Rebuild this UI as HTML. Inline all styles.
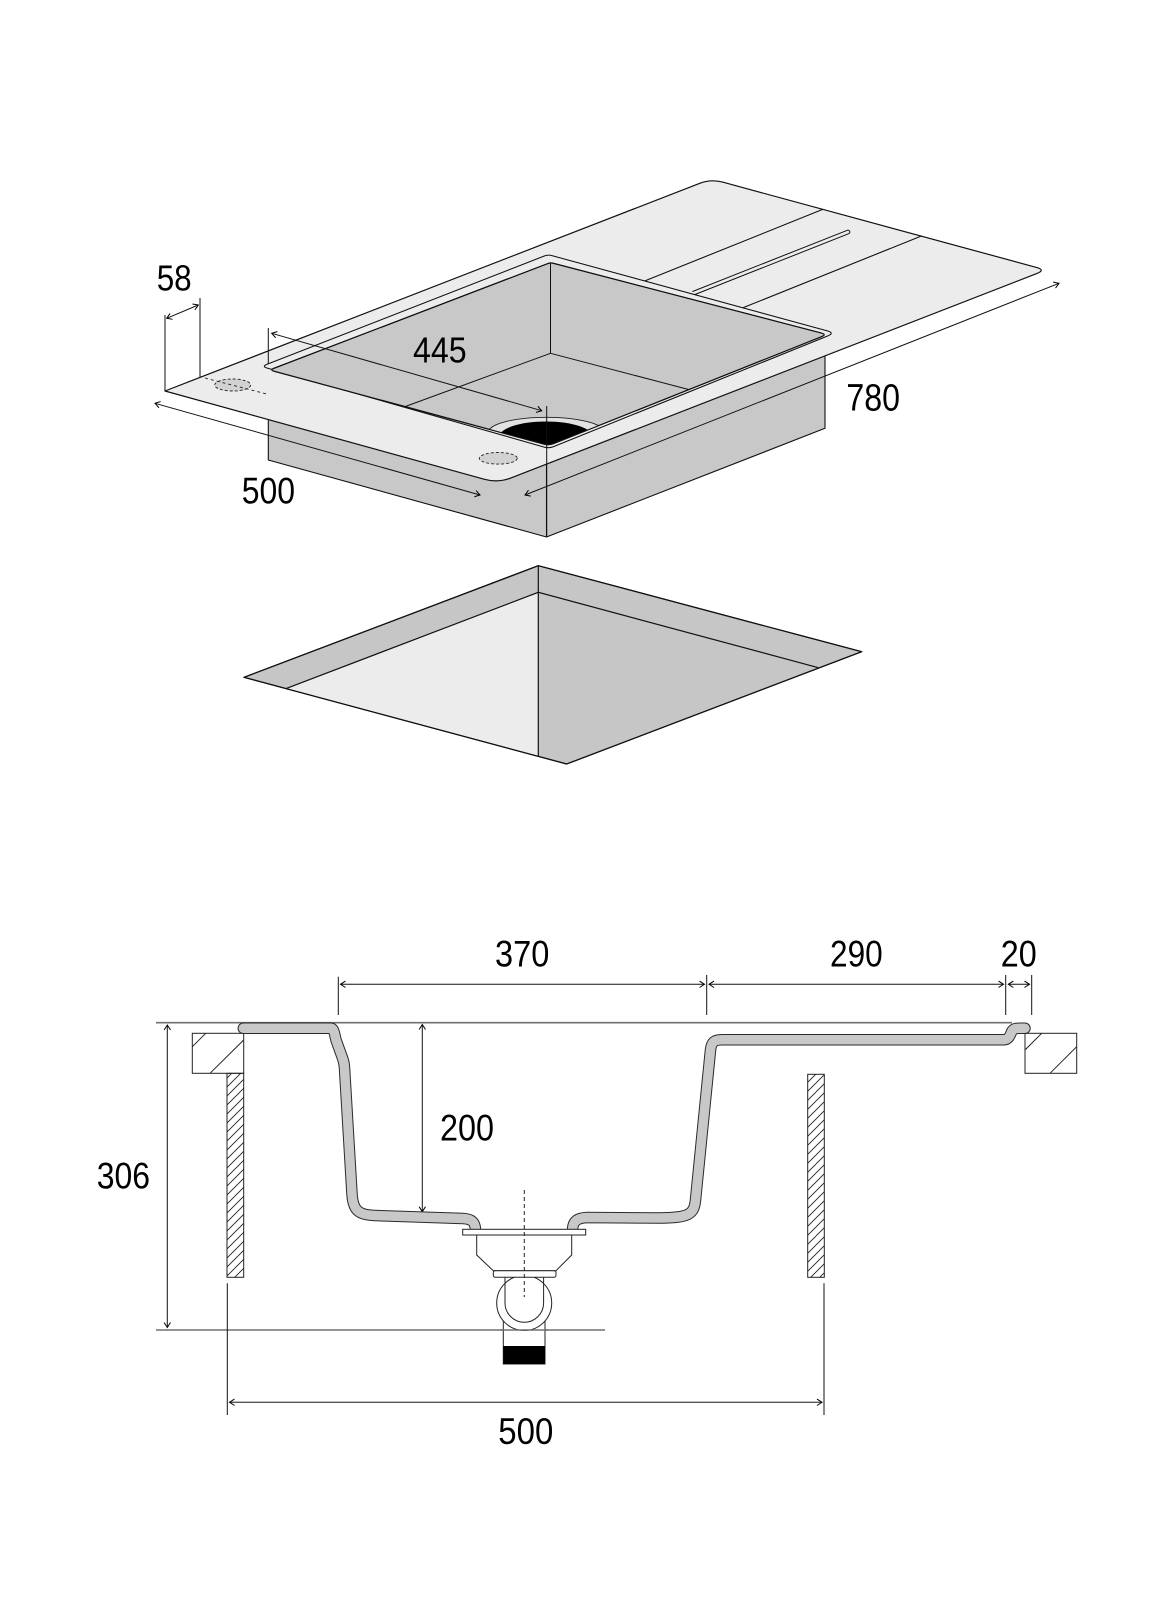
<!DOCTYPE html>
<html>
<head>
<meta charset="utf-8">
<style>
  html,body{margin:0;padding:0;background:#fff;}
  svg{display:block;}
  text{font-family:"Liberation Sans", sans-serif; fill:#000;}
</style>
</head>
<body>
<svg width="1169" height="1600" viewBox="0 0 1169 1600" xmlns="http://www.w3.org/2000/svg">
  <defs>
    <marker id="ar" viewBox="-7 -5 9 10" refX="0" refY="0" markerWidth="9" markerHeight="10" markerUnits="userSpaceOnUse" orient="auto-start-reverse">
      <path d="M-5,-3.2 L0,0 L-5,3.2" fill="none" stroke="#000" stroke-width="1"/>
    </marker>
    <pattern id="hatch" patternUnits="userSpaceOnUse" width="9" height="9">
      <path d="M0,9 L9,0 M-1,1 L1,-1 M8,10 L10,8" stroke="#222" stroke-width="0.9"/>
    </pattern>
    <clipPath id="bowlclip">
      <path d="M274.2,368.2 L547.7,263.6 Q550.5,262.5 553.4,263.3 L821.2,333 Q827,334.5 821.4,336.7 L553.6,443.6 Q549,445.5 544.2,444.2 L274.3,371.3 Q269.5,370 274.2,368.2 Z"/>
    </clipPath>
  </defs>

  <!-- ================= ISOMETRIC SINK ================= -->
  <polygon points="268.3,400 268.3,460 546.5,537 825,428.3 825,340" fill="#c8c8c8" stroke="#111" stroke-width="1.1" stroke-linejoin="round"/>
  <line x1="546.5" y1="464" x2="546.5" y2="537" stroke="#111" stroke-width="1.1"/>

  <path d="M165,391 L699.8,183.3 Q711,179 722.6,182.1 L1036.4,267.4 Q1046,270 1036.7,273.6 L511,477.9 Q498,483 484.5,479.3 Z" fill="#ececec" stroke="#111" stroke-width="1.2" stroke-linejoin="round"/>

  <line x1="823" y1="209.3" x2="644.6" y2="281" stroke="#111" stroke-width="1.1"/>
  <line x1="921.4" y1="236" x2="742.9" y2="307.8" stroke="#111" stroke-width="1.1"/>
  <path d="M692.3,291.6 L847.3,230.3 A1.8,1.8 0 0 1 848.7,233.7 L693.7,295" fill="#ececec" stroke="#111" stroke-width="1"/>

  <!-- sink rim outer -->
  <path d="M267.1,364.3 L544.3,256 Q548,254.5 551.9,255.6 L827.3,330.9 Q835,333 827.6,336 L553.6,446.6 Q549,448.5 544.2,447.1 L267.3,368.1 Q261.5,366.5 267.1,364.3 Z" fill="#ececec" stroke="#111" stroke-width="1.1" stroke-linejoin="round"/>
  <!-- sink rim inner / bowl -->
  <path d="M274.2,368.2 L547.7,263.6 Q550.5,262.5 553.4,263.3 L821.2,333 Q827,334.5 821.4,336.7 L553.6,443.6 Q549,445.5 544.2,444.2 L274.3,371.3 Q269.5,370 274.2,368.2 Z" fill="#c8c8c8" stroke="#111" stroke-width="1.1" stroke-linejoin="round"/>
  <line x1="550.5" y1="263" x2="550.5" y2="353.3" stroke="#111" stroke-width="1"/>
  <line x1="550.5" y1="353.3" x2="405" y2="406.6" stroke="#111" stroke-width="1"/>
  <line x1="550.5" y1="353.3" x2="689" y2="389.6" stroke="#111" stroke-width="1"/>

  <g clip-path="url(#bowlclip)">
    <ellipse cx="546.5" cy="432.3" rx="58" ry="15" fill="#e2e2e2" stroke="#222" stroke-width="0.9"/>
    <ellipse cx="546" cy="437" rx="47" ry="15.5" fill="#000"/>
  </g>
  <path d="M274.2,368.2 L547.7,263.6 Q550.5,262.5 553.4,263.3 L821.2,333 Q827,334.5 821.4,336.7 L553.6,443.6 Q549,445.5 544.2,444.2 L274.3,371.3 Q269.5,370 274.2,368.2 Z" fill="none" stroke="#111" stroke-width="1.1" stroke-linejoin="round"/>

  <ellipse cx="232.7" cy="385" rx="18" ry="6" fill="#d2d2d2" stroke="#222" stroke-width="0.9" stroke-dasharray="3,2"/>
  <line x1="205" y1="378" x2="266.7" y2="394" stroke="#222" stroke-width="0.9" stroke-dasharray="3,3"/>
  <ellipse cx="498.3" cy="458.3" rx="19" ry="5.8" fill="#d2d2d2" stroke="#222" stroke-width="0.9" stroke-dasharray="3,2"/>

  <g stroke="#111" stroke-width="1" fill="none">
    <line x1="165" y1="315" x2="165" y2="391"/>
    <line x1="200" y1="298" x2="200" y2="377"/>
    <line x1="166.7" y1="318.3" x2="198.3" y2="305" marker-start="url(#ar)" marker-end="url(#ar)"/>
    <line x1="268.3" y1="328" x2="268.3" y2="364"/>
    <line x1="546.7" y1="406" x2="546.7" y2="537"/>
    <line x1="271.7" y1="333.3" x2="541.7" y2="410.7" marker-start="url(#ar)" marker-end="url(#ar)"/>
    <line x1="155" y1="403.3" x2="480" y2="495" marker-start="url(#ar)" marker-end="url(#ar)"/>
    <line x1="525" y1="495" x2="1059" y2="283.3" marker-start="url(#ar)" marker-end="url(#ar)"/>
  </g>

  <text x="156.7" y="290.7" font-size="36" textLength="35" lengthAdjust="spacingAndGlyphs">58</text>
  <text x="413" y="362.7" font-size="36" textLength="53.7" lengthAdjust="spacingAndGlyphs">445</text>
  <text x="241.7" y="503.3" font-size="37" textLength="53.3" lengthAdjust="spacingAndGlyphs">500</text>
  <text x="846.4" y="410.7" font-size="38" textLength="53.6" lengthAdjust="spacingAndGlyphs">780</text>

  <!-- ================= CUTOUT ================= -->
  <polygon points="244,677.3 538.3,565.7 861.7,651.7 566.7,764" fill="#c6c6c6" stroke="#111" stroke-width="1.2" stroke-linejoin="round"/>
  <polygon points="286.7,688.3 538.3,592.3 538.3,755.7" fill="#ececec"/>
  <polyline points="286.7,688.3 538.3,592.3 818.3,667.7" fill="none" stroke="#111" stroke-width="1.2"/>
  <line x1="538.3" y1="565.7" x2="538.3" y2="756" stroke="#111" stroke-width="1.2"/>
  <polygon points="244,677.3 538.3,565.7 861.7,651.7 566.7,764" fill="none" stroke="#111" stroke-width="1.2" stroke-linejoin="round"/>

  <!-- ================= SECTION VIEW ================= -->
  <line x1="156" y1="1022.7" x2="1012" y2="1022.7" stroke="#707070" stroke-width="1.6"/>
  <line x1="156" y1="1330" x2="605" y2="1330" stroke="#707070" stroke-width="1.6"/>

  <g stroke="#111" stroke-width="1" fill="none">
    <line x1="338.3" y1="976.7" x2="338.3" y2="1015"/>
    <line x1="706.7" y1="975" x2="706.7" y2="1015"/>
    <line x1="1005.7" y1="975" x2="1005.7" y2="1015"/>
    <line x1="1031.7" y1="975" x2="1031.7" y2="1015"/>
    <line x1="340.5" y1="984.3" x2="704.5" y2="984.3" marker-start="url(#ar)" marker-end="url(#ar)"/>
    <line x1="709" y1="984.3" x2="1003.5" y2="984.3" marker-start="url(#ar)" marker-end="url(#ar)"/>
    <line x1="1008.3" y1="984.3" x2="1029.5" y2="984.3" marker-start="url(#ar)" marker-end="url(#ar)"/>
    <line x1="167.3" y1="1025" x2="167.3" y2="1327.5" marker-start="url(#ar)" marker-end="url(#ar)"/>
    <line x1="422.3" y1="1024.5" x2="422.3" y2="1211.7" marker-start="url(#ar)" marker-end="url(#ar)"/>
    <line x1="227.3" y1="1283.3" x2="227.3" y2="1415"/>
    <line x1="824" y1="1283.3" x2="824" y2="1415"/>
  </g>
  <line x1="229.5" y1="1402.3" x2="822" y2="1402.3" stroke="#555" stroke-width="1.4" marker-start="url(#ar)" marker-end="url(#ar)"/>

  <text x="495" y="966.7" font-size="37" textLength="54.3" lengthAdjust="spacingAndGlyphs">370</text>
  <text x="830" y="966.7" font-size="37" textLength="52.7" lengthAdjust="spacingAndGlyphs">290</text>
  <text x="1000.7" y="966.7" font-size="37" textLength="36" lengthAdjust="spacingAndGlyphs">20</text>
  <text x="96.7" y="1188.3" font-size="37" textLength="53.3" lengthAdjust="spacingAndGlyphs">306</text>
  <text x="440" y="1140.7" font-size="37" textLength="54" lengthAdjust="spacingAndGlyphs">200</text>
  <text x="498.3" y="1444" font-size="37" textLength="55" lengthAdjust="spacingAndGlyphs">500</text>

  <rect x="192.3" y="1033.3" width="51.4" height="40" fill="#fff" stroke="#222" stroke-width="1"/>
  <line x1="192.3" y1="1046.7" x2="205.7" y2="1033.3" stroke="#222" stroke-width="1"/>
  <line x1="210" y1="1073.3" x2="243.7" y2="1040" stroke="#222" stroke-width="1"/>
  <rect x="1025" y="1033.3" width="51.7" height="40" fill="#fff" stroke="#222" stroke-width="1"/>
  <line x1="1025" y1="1050" x2="1041.7" y2="1033.3" stroke="#222" stroke-width="1"/>
  <line x1="1050" y1="1073.3" x2="1076.7" y2="1046.7" stroke="#222" stroke-width="1"/>

  <rect x="227" y="1073.3" width="16.7" height="204" fill="url(#hatch)" stroke="#222" stroke-width="1"/>
  <rect x="807.7" y="1074.3" width="16.6" height="203" fill="url(#hatch)" stroke="#222" stroke-width="1"/>

  <g fill="none" stroke-linecap="round" stroke-linejoin="round">
    <path d="M243.3,1028.3 L331,1028.3 C334,1028.3 334.5,1034 336,1040 L342.5,1058 C344,1062 344.3,1064 344.5,1068 L352,1194 C353,1210 358,1215 375,1215.5 L463,1218.5 C472,1219 475,1222 475.5,1229.5" stroke="#2a2a2a" stroke-width="11.5"/>
    <path d="M243.3,1028.3 L331,1028.3 C334,1028.3 334.5,1034 336,1040 L342.5,1058 C344,1062 344.3,1064 344.5,1068 L352,1194 C353,1210 358,1215 375,1215.5 L463,1218.5 C472,1219 475,1222 475.5,1229.5" stroke="#c8c8c8" stroke-width="9.5"/>
    <path d="M572.5,1229.5 C573,1221 577,1218 587,1217.5 L658,1218 C690,1218 694,1214 695.5,1200 L710.5,1050 C711.5,1042 714,1039.7 722,1039.7 L1004,1039.7 C1009,1039.7 1010,1035 1012,1031 C1014,1028.3 1016,1028.3 1020,1028.3 L1025,1028.3" stroke="#2a2a2a" stroke-width="11.5"/>
    <path d="M572.5,1229.5 C573,1221 577,1218 587,1217.5 L658,1218 C690,1218 694,1214 695.5,1200 L710.5,1050 C711.5,1042 714,1039.7 722,1039.7 L1004,1039.7 C1009,1039.7 1010,1035 1012,1031 C1014,1028.3 1016,1028.3 1020,1028.3 L1025,1028.3" stroke="#c8c8c8" stroke-width="9.5"/>
  </g>

  <rect x="503.3" y="1318" width="41.7" height="46" fill="#fff" stroke="#222" stroke-width="1"/>
  <rect x="503.3" y="1346" width="41.7" height="18" fill="#000"/>
  <circle cx="524.2" cy="1303" r="27.5" fill="#fff" stroke="#222" stroke-width="1"/>
  <path d="M505,1276 V1303 A19.3,19.3 0 0 0 543.6,1303 V1276" fill="none" stroke="#222" stroke-width="1"/>
  <polygon points="476.7,1235 476.7,1255 493.3,1270.7 556,1270.7 571.7,1255 571.7,1235" fill="#fff" stroke="#222" stroke-width="1"/>
  <rect x="493.3" y="1270.7" width="62.7" height="6.6" rx="2" fill="#fff" stroke="#222" stroke-width="1"/>
  <rect x="462.7" y="1229.3" width="123" height="5.7" fill="#fff" stroke="#222" stroke-width="1"/>
  <line x1="524.3" y1="1190" x2="524.3" y2="1297" stroke="#222" stroke-width="1" stroke-dasharray="4,3"/>

  <line x1="500" y1="1330" x2="548" y2="1330" stroke="#707070" stroke-width="1.6"/>
</svg>
</body>
</html>
